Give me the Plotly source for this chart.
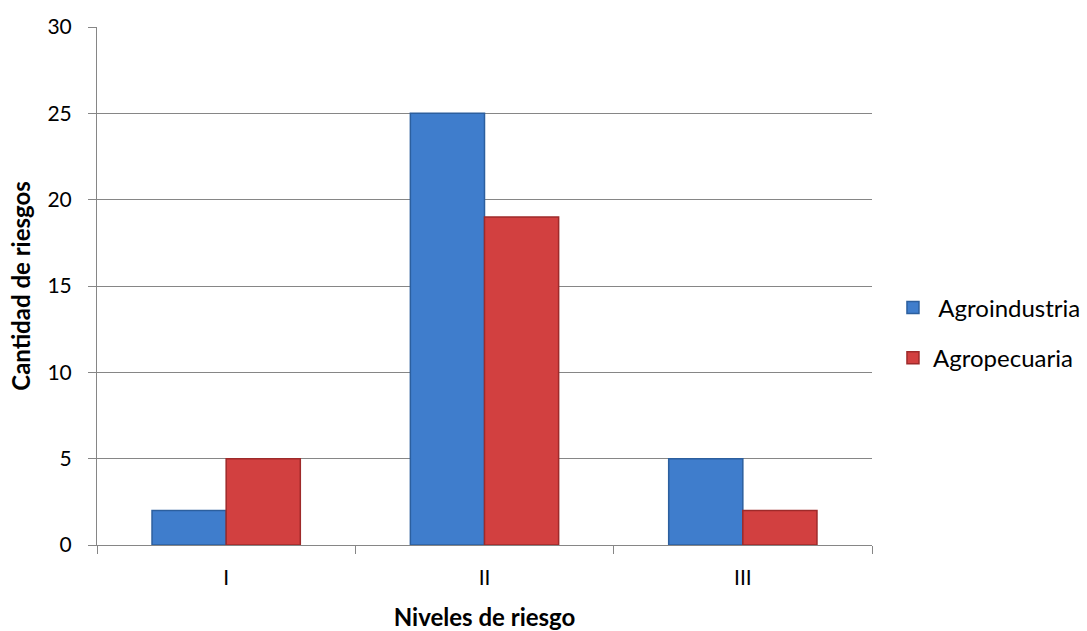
import plotly.graph_objects as go

niveles = ["I", "II", "III"]
agroindustria = [2, 25, 5]
agropecuaria = [5, 19, 2]

FONT = "Lato, 'Open Sans', Arial, sans-serif"

fig = go.Figure()
fig.add_trace(go.Bar(
    x=niveles, y=agroindustria, name=" Agroindustria",
    marker=dict(color="#3f7dcc", line=dict(color="#2c5f9e", width=1.5)),
    legendgroup="a",
))
fig.add_trace(go.Bar(
    x=niveles, y=agropecuaria, name="Agropecuaria",
    marker=dict(color="#d24040", line=dict(color="#9e2a2a", width=1.5)),
    legendgroup="b",
))

fig.update_layout(
    width=1087, height=631,
    margin=dict(l=97, r=215, t=27, b=86, autoexpand=False),
    paper_bgcolor="white", plot_bgcolor="white",
    barmode="group", bargap=0.426, bargroupgap=0,
    font=dict(family=FONT, size=21, color="black"),
    showlegend=True,
    legend=dict(xref="container", yref="container",
                x=0.8215, y=0.4723, xanchor="left", yanchor="middle",
                font=dict(size=24), tracegroupgap=16,
                traceorder="grouped", itemwidth=30),
    xaxis=dict(
        automargin=False,
        showline=True, linecolor="#868686", linewidth=1,
        ticks="outside", tickson="boundaries", ticklen=8, tickcolor="#868686",
        ticklabelstandoff=14,
        title=dict(text="<b>Niveles de riesgo</b>", font=dict(size=24), standoff=20),
        tickfont=dict(size=21),
    ),
    yaxis=dict(
        automargin=False,
        range=[0, 30], dtick=5,
        showline=True, linecolor="#868686", linewidth=1,
        showgrid=True, gridcolor="#868686", gridwidth=1,
        ticks="outside", ticklen=8, tickcolor="#868686",
        ticklabelstandoff=12,
        zeroline=False,
        title=dict(text="<b>Cantidad de riesgos</b>", font=dict(size=24), standoff=10),
        tickfont=dict(size=21),
    ),
)

fig.write_html("out.html")
